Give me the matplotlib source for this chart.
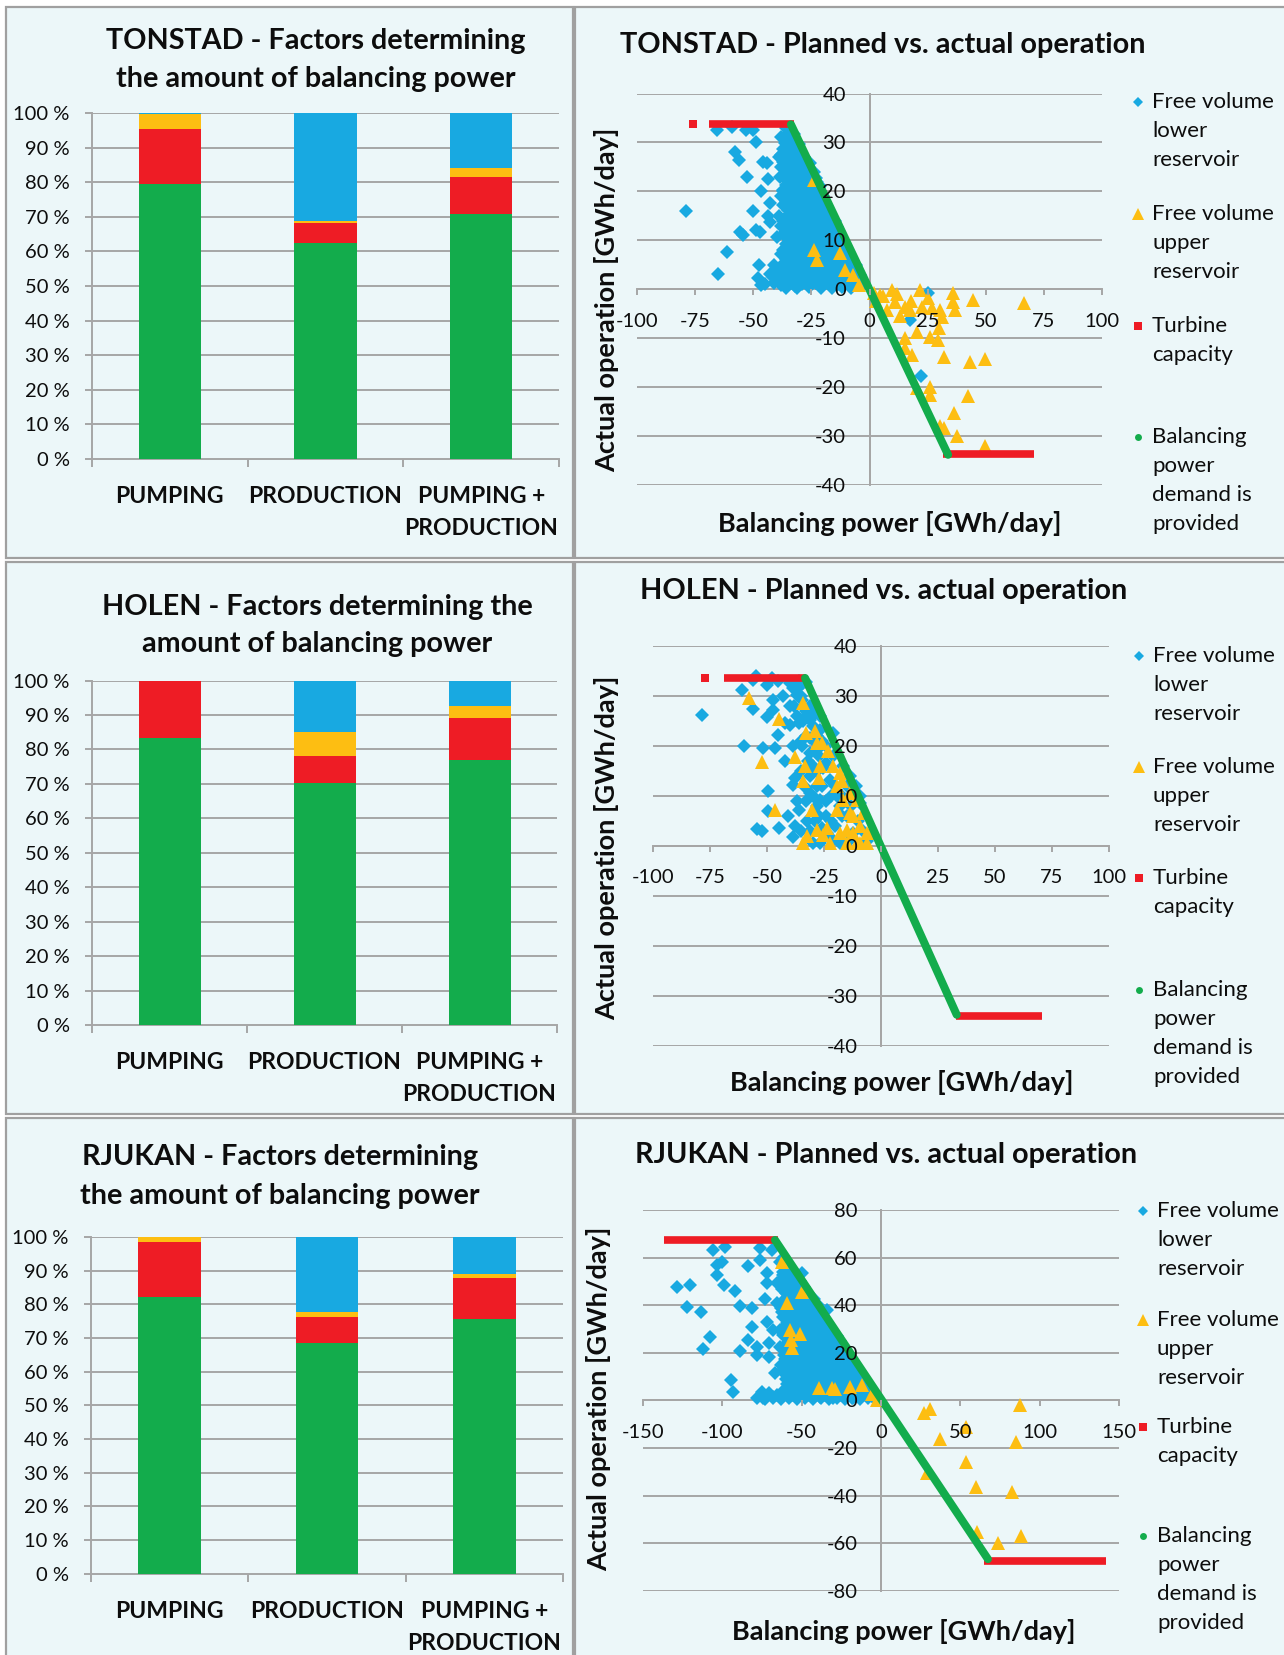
import numpy as np
import matplotlib
matplotlib.use("Agg")
import matplotlib.pyplot as plt
from matplotlib.patches import Rectangle
from matplotlib.lines import Line2D

plt.rcParams['font.family'] = ['Lato', 'DejaVu Sans']
plt.rcParams['axes.unicode_minus'] = False

# ---------------------------------------------------------------- data
categories = ["PUMPING", "PRODUCTION", "PUMPING +\nPRODUCTION"]

# shares (%) per category: demand provided, turbine capacity, upper reservoir, lower reservoir
tonstad_share_demand = [79.5, 62.4, 70.8]
tonstad_share_turbine = [16.0, 5.8, 10.7]
tonstad_share_upper = [4.1, 0.5, 2.7]
tonstad_share_lower = [0.4, 31.3, 15.8]

holen_share_demand = [83.2, 70.4, 76.9]
holen_share_turbine = [16.8, 7.7, 12.2]
holen_share_upper = [0.0, 6.9, 3.5]
holen_share_lower = [0.0, 15.0, 7.4]

rjukan_share_demand = [82.1, 68.5, 75.5]
rjukan_share_turbine = [16.5, 7.8, 12.2]
rjukan_share_upper = [1.4, 1.4, 1.4]
rjukan_share_lower = [0.0, 22.3, 10.9]

# (balancing power, actual operation) in GWh/day
tonstad_lower = [
    (-79, 16), (-65, 3), (-61.5, 7.6), (-58, 28), (-56, 26.5), (-55.5, 11.7), (-54.5, 11),
    (-52.5, 23), (-65.5, 32.5), (-59, 33.2), (-53, 32.5), (-50, 32.5), (-49, 30), (-50, 16),
    (-49, 12), (-47, 11.7), (-46.5, 20), (-47.5, 5), (-48, 2.2), (-46.5, 0.8), (-46, 26),
    (-44, 25.7), (-43.5, 22.6), (-43, 17.7), (-43, 13.8), (-43.5, 15), (-41.5, 2.5), (-40, 10.7),
    (-39, 15), (-38.5, 23), (-38.5, 1.2), (-38, 27.4), (-37, 20.2), (-36.3, 2.5), (-35.6, 4.6),
    (-35, 31.8), (-34.5, 26), (-32.8, 1.8), (17.4, -6.3), (22, -17.8), (25, -0.7),
    (-36, 33), (-34, 32.6), (-38, 31.2), (-35.5, 30.6), (-33, 31),
    (-37, 28.6), (-34, 29.3), (-31.5, 29),
    (-39, 27), (-36, 26.8), (-33, 27.3), (-30.5, 26.6), (-28, 27),
    (-38, 25), (-35, 25.3), (-32, 24.7), (-29, 25.1), (-26.5, 24.8),
    (-37, 23.4), (-34, 22.8), (-31, 23.2), (-28, 22.6), (-25, 23), (-23, 22.7),
    (-36, 21.3), (-33, 20.7), (-30, 21.2), (-27, 20.8), (-24, 21.1), (-21.5, 21),
    (-38, 19), (-35, 19.3), (-32, 18.7), (-29, 19.2), (-26, 18.8), (-23, 19.1), (-20, 19),
    (-37, 17.2), (-34, 16.8), (-31, 17.3), (-28, 16.7), (-25, 17.1), (-22, 16.9), (-18.5, 17),
    (-36, 14.8), (-33, 15.3), (-30, 14.7), (-27, 15.1), (-24, 14.9), (-21, 15.2), (-17, 14.8),
    (-38, 13), (-35, 13.2), (-32, 12.8), (-29, 13.3), (-26, 12.7), (-23, 13.1), (-20, 12.9), (-16.5, 13.2), (-14, 12.8),
    (-37, 11.2), (-34, 10.8), (-31, 11.3), (-28, 10.7), (-25, 11.1), (-22, 10.9), (-19, 11.2), (-15.5, 10.8), (-12.5, 11),
    (-36, 9.2), (-33, 8.8), (-30, 9.3), (-27, 8.7), (-24, 9.1), (-21, 8.9), (-18, 9.2), (-14.5, 8.8), (-10.5, 9),
    (-38, 7.2), (-35, 6.8), (-32, 7.3), (-29, 6.7), (-26, 7.1), (-23, 6.9), (-20, 7.2), (-17, 6.8), (-13, 7.1), (-9, 6.9),
    (-41, 5), (-37, 5.2), (-34, 4.8), (-31, 5.3), (-28, 4.7), (-25, 5.1), (-22, 4.9), (-19, 5.2), (-16, 4.8), (-12, 5.1), (-8, 4.9), (-6, 5),
    (-43, 3), (-39, 3.2), (-36, 2.8), (-33, 3.3), (-30, 2.7), (-27, 3.1), (-24, 2.9), (-21, 3.2), (-18, 2.8), (-15, 3.1), (-11, 2.9), (-7, 3.2), (-4, 2.8),
    (-45, 1), (-41, 1.2), (-38, 0.8), (-35, 1.3), (-32, 0.7), (-29, 1.1), (-26, 0.9), (-23, 1.2), (-20, 0.8), (-17, 1.1), (-14, 0.9), (-10, 1.2), (-6, 0.8), (-3, 1),
    (-36, 0.3), (-31, 0.2), (-26, 0.4), (-21, 0.3), (-16, 0.2), (-12, 0.4), (-8, 0.3),
    (-35, 32), (-32.5, 31.8),
    (-36.5, 29.8), (-33, 30), (-30.5, 29.6),
    (-35, 28.2), (-32, 27.8), (-29.5, 28),
    (-37, 26), (-34, 26.2), (-31, 25.8), (-28, 26.1), (-25.5, 25.9),
    (-36, 24), (-33, 24.2), (-30, 23.8), (-27, 24.1), (-24, 24),
    (-35, 22.2), (-32, 21.8), (-29, 22.1), (-26, 21.9), (-22.5, 22),
    (-37, 20), (-34, 20.2), (-31, 19.8), (-28, 20.1), (-25, 19.9), (-21.5, 20.1),
    (-36, 18), (-33, 18.2), (-30, 17.8), (-27, 18.1), (-24, 17.9), (-20.5, 18),
    (-35, 16.2), (-32, 15.8), (-29, 16.1), (-26, 15.9), (-23, 16), (-19, 16.1),
    (-37, 14), (-34, 14.2), (-31, 13.8), (-28, 14.1), (-25, 13.9), (-22, 14), (-18.5, 14.1), (-15, 14),
    (-36, 12), (-33, 12.2), (-30, 11.8), (-27, 12.1), (-24, 11.9), (-21, 12), (-17.5, 12.1), (-14, 11.9),
    (-35, 10.2), (-32, 9.8), (-29, 10.1), (-26, 9.9), (-23, 10), (-20, 10.1), (-16.5, 9.9), (-12, 10),
    (-37, 8), (-34, 8.2), (-31, 7.8), (-28, 8.1), (-25, 7.9), (-22, 8), (-19, 8.1), (-15.5, 7.9), (-11, 8.1),
    (-36, 6.2), (-33, 5.8), (-30, 6.1), (-27, 5.9), (-24, 6), (-21, 6.1), (-18, 5.9), (-14, 6.1), (-10, 6),
    (-38, 4), (-35, 4.2), (-32, 3.8), (-29, 4.1), (-26, 3.9), (-23, 4), (-20, 4.1), (-17, 3.9), (-13, 4.1), (-9, 3.9), (-5.5, 4),
    (-40, 2), (-37, 2.2), (-34, 1.8), (-31, 2.1), (-28, 1.9), (-25, 2), (-22, 2.1), (-19, 1.9), (-16, 2.1), (-12.5, 1.9), (-8.5, 2.1), (-5, 2),
]
tonstad_upper = [
    (-24, 22.3), (-23.7, 8), (-22.4, 5.9), (-12.7, 7.3), (-10.5, 3.9), (-7, 2.9), (-4.4, 0.8),
    (2, -0.8), (3, -2.5), (4.5, -1.2), (6, -1.5), (9.5, -0.2), (7.4, -4.3), (11, -2.6), (12, -1),
    (13, -5.5), (15.3, -3.6), (17.4, -4.3), (18, -2.5), (21.7, -0.2), (22.4, -3.6), (25.3, -1.9),
    (26.7, -3.9), (30.3, -4.3), (31, -5.7), (36, -0.9), (36, -2.6), (36.8, -4.3), (44.6, -2.3),
    (66.6, -2.9), (20.3, -8.7), (15.3, -10.1), (26, -9.8), (29.6, -10.4), (30, -8), (15.3, -12.1),
    (18.1, -13.5), (32.2, -13.8), (43.2, -14.9), (49.7, -14.3), (26, -20), (20.3, -20.3),
    (26, -21.7), (42.2, -21.9), (36.5, -25.3), (30.3, -28.1), (32.2, -28.4), (37.5, -30), (49.7, -32.1),
]
tonstad_turbine_single = [(-76, 33.7)]
tonstad_turbine_runs = [((-69, -32.5), 33.7), ((31.6, 70.6), -33.8)]
tonstad_demand_x = [-33.8, 33.8]
tonstad_demand_y = [33.7, -33.9]

holen_lower = [
    (-78.7, 26.1), (-61.1, 31.2), (-56.3, 27.4), (-56.3, 33.2), (-50.1, 32.2), (-47.2, 29.2),
    (-50.1, 25.8), (-47.5, 27.2), (-45.2, 22.2), (-60.1, 19.9), (-51.6, 19.5), (-46.5, 19.5),
    (-42.1, 16.9), (-49.7, 10.9), (-49.7, 6.9), (-54.5, 3.3), (-52.3, 2.9), (-44.6, 3.5),
    (-36, 7.1), (-37.7, 13.5), (-38.5, 12.2), (-38.5, 1.7), (-37.7, 3.9), (-42.1, 24.5),
    (-39.9, 24.2), (-38.5, 31.6), (-37, 30.2), (-35.5, 31.9), (-34.1, 32.6), (-38.5, 19.9),
    (-34.8, 19.9), (-32.6, 26.2), (-31.1, 25.2), (-31.1, 18.5), (-29.7, 21.2), (-31.1, 10.5),
    (-28.2, 11.9), (-26.8, 9.2), (-28.2, 7.9), (-32.6, 4.9), (-26.8, 0.5), (-23.8, 2.5),
    (-20.9, 1.2), (-25.3, 15.5), (-22.4, 13.2), (-19.4, 9.9), (-18, 7.9), (-15.1, 5.9),
    (-12.1, 2.5), (-9.2, 8.5), (-12.1, 11.9), (-13.6, 13.9), (-16.5, 15.9), (-20.9, 17.9),
    (-26.8, 23.2), (-28.2, 19.2), (-20.9, 22.5), (-34.8, 29.2), (-26.8, 25.9),
    (-36, 33), (-33, 32.8), (-40, 32.5), (-45, 33), (-48, 33.5), (-55, 34), (-35, 30),
    (-38, 28), (-33, 27), (-30, 24), (-36, 24.5), (-33, 22), (-28, 22), (-30, 16), (-27, 18),
    (-24, 20), (-31, 14), (-26, 12), (-22, 10), (-33, 9), (-29, 5), (-24, 6), (-20, 4),
    (-17, 10), (-15, 12), (-13, 8), (-10, 5), (-8, 3), (-6, 1), (-14, 1), (-18, 0.5),
    (-30, 0.5), (-35, 3), (-9, 10), (-11, 12),
    (-37, 26), (-34, 25), (-31, 28), (-29, 26.5), (-35, 21), (-31, 21.5), (-26, 21), (-32, 17),
    (-28, 15), (-24, 16.5), (-35, 15), (-33, 11.5), (-29, 9.5), (-24, 9), (-27, 6), (-22, 5),
    (-31, 3), (-26, 3.5), (-17, 6), (-20, 12), (-37, 9), (-41, 6), (-40, 28), (-43, 30),
]
holen_upper = [
    (-57.7, 29.6), (-44.6, 25.4), (-52.3, 16.7), (-46.5, 7.1), (-37.7, 17.7), (-34.4, 28.6),
    (-33, 22.5), (-33.3, 15.9), (-34.4, 12.9), (-30.4, 7.1), (-34.1, 0.5), (-32.6, 1.9),
    (-28.9, 22.9), (-28.2, 20.5), (-26.8, 16), (-27, 13.5), (-28.2, 3.2), (-25.3, 2.2),
    (-23.1, 18.9), (-23.8, 3.5), (-22.4, 0.5), (-20.9, 15.9), (-18, 14.5), (-17.3, 12.9),
    (-19.4, 7.2), (-16.5, 9.2), (-13.6, 10.5), (-15.1, 3.2), (-12.1, 5.9), (-12.1, 2.5),
    (-15.1, 0.5), (-10.7, 9.2), (-9.2, 3.9), (-6.3, 0.5), (-6.3, 2.5), (-7.7, 6.5),
    (-4.8, 2.5), (-10.7, 0.5), (-26, 20.5), (-19.4, 11.9), (-13.6, 6.5), (-9.2, 0.5), (-18, 2.5),
]
holen_turbine_single = [(-77, 33.6)]
holen_turbine_runs = [((-69, -33), 33.6), ((33, 70.5), -34.0)]
holen_demand_x = [-33.3, 33.2]
holen_demand_y = [33.6, -33.8]

rjukan_lower = [
    (-128.8, 47.8), (-120.4, 48.5), (-122.5, 39.1), (-113.4, 37), (-107.8, 26.5), (-112, 21.5),
    (-105.7, 63.2), (-98.3, 64.3), (-103.6, 56.9), (-100.4, 58.3), (-103.6, 52.7), (-98.9, 48.5),
    (-92, 46.1), (-88.8, 39.7), (-81.5, 38.7), (-83.6, 56.5), (-81.5, 31), (-83.6, 25.4),
    (-88.8, 20.9), (-78.3, 22.6), (-94.7, 8.6), (-93, 3.7), (-75.2, 3.7), (-74.1, 0.9),
    (-67.8, 1.6), (-66.8, 11.4), (-61.5, 12.8), (-76.2, 63.9), (-68.9, 63.2), (-76.2, 59),
    (-72, 53.4), (-72, 49.2), (-73.1, 42.5), (-65.7, 49.2), (-65.7, 40.8), (-72, 33.1),
    (-67.8, 29.6), (-70.9, 24), (-78.3, 19.1), (-70.9, 18.4), (-63.6, 58.3), (-61.5, 51.3),
    (-59.4, 47.1), (-58.4, 41.5), (-61.5, 35.2), (-63.6, 29.6), (-60.5, 22.6), (-59.4, 17),
    (-54.2, 12.8), (-57.3, 5.8), (-53.1, 1.6), (-51, 46.4), (-50, 38.7), (-48.9, 31),
    (-46.8, 22.6), (-45.8, 15.6), (-44.7, 7.2), (-42.6, 1.6), (-40.5, 36.6), (-38.4, 28.2),
    (-36.3, 21.2), (-35.3, 12.8), (-33.2, 4.4), (-30, 26.8), (-27.9, 18.4), (-25.8, 10),
    (-23.7, 2.3), (-19.5, 17), (-17.4, 8.6), (-13.2, 3), (-9, 5.8), (-4.8, 1.6), (-38.4, 1.6),
    (-30, 0.9), (-17.4, 0.9), (-46.8, 33.8), (-34.2, 38), (-53.1, 26.8), (-55.2, 35.2), (-50, 53.4),
    (-62, 60),
    (-62, 54), (-57, 55),
    (-59, 50), (-54, 49), (-51, 50),
    (-60, 45), (-55, 44), (-50, 45), (-46, 44),
    (-63, 39), (-58, 40), (-53, 39), (-48, 40), (-43, 39), (-40, 40),
    (-60, 35), (-55, 34), (-50, 35), (-45, 34), (-40, 35), (-36, 34),
    (-62, 30), (-57, 29), (-52, 30), (-47, 29), (-42, 30), (-37, 29), (-32, 30),
    (-59, 24), (-54, 25), (-49, 24), (-44, 25), (-39, 24), (-34, 25), (-29, 24), (-26, 25),
    (-61, 19), (-56, 20), (-51, 19), (-46, 20), (-41, 19), (-36, 20), (-31, 19), (-26, 20), (-22, 19),
    (-63, 15), (-58, 14), (-53, 15), (-48, 14), (-43, 15), (-38, 14), (-33, 15), (-28, 14), (-23, 15), (-18, 14),
    (-60, 9), (-55, 10), (-50, 9), (-45, 10), (-40, 9), (-35, 10), (-30, 9), (-25, 10), (-20, 9), (-15, 10), (-11, 9),
    (-62, 4), (-57, 5), (-52, 4), (-47, 5), (-42, 4), (-37, 5), (-32, 4), (-27, 5), (-22, 4), (-17, 5), (-12, 4), (-7, 5),
    (-78, 1), (-73, 0.5), (-68, 1), (-63, 0.5), (-58, 1), (-53, 0.5), (-48, 1), (-43, 0.5), (-38, 1), (-33, 0.5), (-28, 1), (-23, 0.5), (-18, 1), (-13, 0.5), (-8, 1), (-4, 0.5),
    (-59.5, 57.5),
    (-61.5, 52.5), (-56.5, 52), (-53, 52.5),
    (-62.5, 47), (-57.5, 47.5), (-52.5, 47), (-48.5, 47.5),
    (-60.5, 42.5), (-55.5, 42), (-50.5, 42.5), (-45.5, 42), (-42, 42.5),
    (-62.5, 37), (-57.5, 37.5), (-52.5, 37), (-47.5, 37.5), (-42.5, 37), (-38, 37.5),
    (-59.5, 32.5), (-54.5, 32), (-49.5, 32.5), (-44.5, 32), (-39.5, 32.5), (-34, 32),
    (-61.5, 27.5), (-56.5, 27), (-51.5, 27.5), (-46.5, 27), (-41.5, 27.5), (-36.5, 27), (-31.5, 27.5), (-28, 27),
    (-63.5, 22.5), (-58.5, 22), (-53.5, 22.5), (-48.5, 22), (-43.5, 22.5), (-38.5, 22), (-33.5, 22.5), (-28.5, 22), (-24, 22.5),
    (-60.5, 17.5), (-55.5, 17), (-50.5, 17.5), (-45.5, 17), (-40.5, 17.5), (-35.5, 17), (-30.5, 17.5), (-25.5, 17), (-20.5, 17.5),
    (-62.5, 12.5), (-57.5, 12), (-52.5, 12.5), (-47.5, 12), (-42.5, 12.5), (-37.5, 12), (-32.5, 12.5), (-27.5, 12), (-22.5, 12.5), (-17.5, 12), (-14, 12.5),
    (-59.5, 7), (-54.5, 7.5), (-49.5, 7), (-44.5, 7.5), (-39.5, 7), (-34.5, 7.5), (-29.5, 7), (-24.5, 7.5), (-19.5, 7), (-14.5, 7.5), (-9.5, 7),
    (-75.5, 2.5), (-70.5, 3), (-65.5, 2.5), (-60.5, 3), (-55.5, 2.5), (-50.5, 3), (-45.5, 2.5), (-40.5, 3), (-35.5, 2.5), (-30.5, 3), (-25.5, 2.5), (-20.5, 3), (-15.5, 2.5), (-10.5, 3), (-6, 2.5),
]
rjukan_upper = [
    (-62.2, 58.3), (-50, 45.7), (-59.4, 40.8), (-57.3, 29.6), (-51, 27.9), (-56.9, 25.4),
    (-56.3, 21.9), (-39.1, 5.1), (-31.1, 5.1), (-29, 4.7), (-19.5, 5.8), (-12.2, 6.5),
    (-5.9, 2.7), (-2.7, 0), (27.3, -5.4), (30.9, -3.7), (36.9, -16.3), (53.4, -11.3),
    (53.8, -25.7), (60.1, -36.5), (60.6, -55.1), (73.7, -60), (29, -30.6), (87.6, -1.9),
    (85.3, -17.3), (82.6, -38.3), (88, -56.9),
]
rjukan_turbine_single = []
rjukan_turbine_runs = [((-136.7, -65), 67.4), ((65, 141.6), -67.4)]
rjukan_demand_x = [-66.8, 67.4]
rjukan_demand_y = [67.4, -66.6]

legend_entries = [
    ["Free volume", "lower", "reservoir"],
    ["Free volume", "upper", "reservoir"],
    ["Turbine", "capacity"],
    ["Balancing", "power", "demand is", "provided"],
]

# ---------------------------------------------------------------- style
C_GREEN = '#13AC4C'
C_RED = '#EE1C25'
C_YELLOW = '#FDBE12'
C_BLUE = '#18A9E1'
C_GRID = '#A6A6A6'
C_TEXT = '#0D0D0D'
BG = '#ECF7F9'

W, H = 1284, 1655
fig = plt.figure(figsize=(W / 100, H / 100), dpi=100)
fig.patch.set_facecolor('white')


def fx(px):
    return px / W


def fy(py):
    return 1 - py / H


def axes_px(x0, y0, x1, y1):
    ax = fig.add_axes([fx(x0), fy(y1), (x1 - x0) / W, (y1 - y0) / H])
    ax.patch.set_visible(False)
    return ax


def text_px(x, y, s, **kw):
    kw.setdefault('color', C_TEXT)
    return fig.text(fx(x), fy(y), s, **kw)


# panel frames
for (x0, y0, x1, y1) in [(6, 7, 573, 558), (575, 7, 1290, 558),
                         (6, 562, 573, 1114), (575, 562, 1290, 1114),
                         (6, 1118, 573, 1662), (575, 1118, 1290, 1662)]:
    fig.add_artist(Rectangle((fx(x0), fy(y1)), (x1 - x0) / W, (y1 - y0) / H,
                             transform=fig.transFigure, facecolor=BG,
                             edgecolor='#A0A0A0', lw=1.6, zorder=0))


def bar_panel(box, title_lines, title_x, title_base, demand, turbine, upper, lower):
    x0, y0, x1, y1 = box
    ax = axes_px(*box)
    xs = np.arange(3)
    bottom = np.zeros(3)
    for vals, col in [(demand, C_GREEN), (turbine, C_RED), (upper, C_YELLOW), (lower, C_BLUE)]:
        vals = np.asarray(vals, float)
        ax.bar(xs, vals, 0.4, bottom=bottom, color=col, zorder=3, linewidth=0)
        bottom += vals
    ax.set_xlim(-0.5, 2.5)
    ax.set_ylim(0, 100)
    ticks = np.arange(0, 101, 10)
    ax.set_yticks(ticks)
    ax.set_yticklabels([f"{t} %" for t in ticks])
    for t in ticks[1:]:
        ax.axhline(t, color=C_GRID, lw=1.4, zorder=1)
    ax.set_xticks([-0.5, 0.5, 1.5, 2.5])
    ax.set_xticklabels([])
    for side in ['top', 'right']:
        ax.spines[side].set_visible(False)
    for side in ['left', 'bottom']:
        ax.spines[side].set_color(C_GRID)
        ax.spines[side].set_linewidth(1.4)
    ax.tick_params(axis='y', length=5, width=1.4, color=C_GRID, pad=11,
                   labelsize=14.5, labelcolor=C_TEXT)
    ax.tick_params(axis='x', length=6, width=1.4, color=C_GRID)
    # category names under the bars
    cw = (x1 - x0) / 3
    for i, name in enumerate(categories):
        for j, line in enumerate(name.split('\n')):
            text_px(x0 + (i + 0.5) * cw, y1 + 44 + 32 * j, line, ha='center',
                    va='baseline', fontsize=16.5, fontweight='bold')
    for line, yb in zip(title_lines, title_base):
        text_px(title_x, yb, line, ha='center', va='baseline', fontsize=20.7,
                fontweight='bold')


def scatter_panel(box, xlim, xstep, ylim, ystep, lower, upper, turb_single, turb_runs,
                  dem_x, dem_y, title, title_x, title_base, xlab_pos, ylab_pos, leg_x, leg_ys):
    ax = axes_px(*box)
    ax.set_xlim(*xlim)
    ax.set_ylim(*ylim)
    yt = np.arange(ylim[0], ylim[1] + 1, ystep)
    xt = np.arange(xlim[0], xlim[1] + 1, xstep)
    for t in yt:
        ax.axhline(t, color=C_GRID, lw=1.4, zorder=1)
    ax.axvline(0, color=C_GRID, lw=1.4, zorder=1)
    for side in ['top', 'right']:
        ax.spines[side].set_visible(False)
    ax.spines['left'].set_position(('data', 0))
    ax.spines['bottom'].set_position(('data', 0))
    for side in ['left', 'bottom']:
        ax.spines[side].set_color(C_GRID)
        ax.spines[side].set_linewidth(1.4)
        ax.spines[side].set_zorder(1)
    ax.set_xticks(xt)
    ax.set_xticklabels([f"{int(v)}" for v in xt])
    ax.set_yticks(yt)
    ax.set_yticklabels([f"{int(v)}" for v in yt])
    ax.tick_params(axis='x', length=4.5, width=1.4, color=C_GRID, pad=12.5,
                   labelsize=14.5, labelcolor=C_TEXT)
    ax.tick_params(axis='y', length=0, pad=17, labelsize=14.5, labelcolor=C_TEXT)
    ax.xaxis.set_zorder(6)
    ax.yaxis.set_zorder(6)

    lo = np.array(lower)
    ax.plot(lo[:, 0], lo[:, 1], 'D', ms=6.8, color=C_BLUE, mew=0, zorder=3, clip_on=False)
    up = np.array(upper)
    ax.plot(up[:, 0], up[:, 1], '^', ms=9.8, color=C_YELLOW, mew=0, zorder=3.5, clip_on=False)
    for (xa, xb), yv in turb_runs:
        ax.plot([xa, xb], [yv, yv], color=C_RED, lw=5.5, solid_capstyle='butt', zorder=4)
    for xv, yv in turb_single:
        ax.plot([xv], [yv], 's', ms=5.8, color=C_RED, mew=0, zorder=4)
    ax.plot(dem_x, dem_y, color=C_GREEN, lw=5.8, solid_capstyle='round', zorder=5)

    text_px(title_x, title_base, title, ha='center', va='baseline', fontsize=20.8,
            fontweight='bold')
    text_px(xlab_pos[0], xlab_pos[1], "Balancing power [GWh/day]", ha='center',
            va='baseline', fontsize=19.5, fontweight='bold')
    text_px(ylab_pos[0], ylab_pos[1], "Actual operation [GWh/day]", ha='center',
            va='center', rotation=90, fontsize=19.5, fontweight='bold')

    markers = [('D', 4.6, C_BLUE), ('^', 8.5, C_YELLOW), ('s', 5.2, C_RED), ('o', 5.0, C_GREEN)]
    for (mk, ms, col), lines, ly in zip(markers, legend_entries, leg_ys):
        fig.add_artist(Line2D([fx(leg_x - 14)], [fy(ly)], marker=mk, ms=ms, color=col,
                              mew=0, transform=fig.transFigure))
        for k, line in enumerate(lines):
            text_px(leg_x, ly + 29 * k, line, ha='left', va='center', fontsize=16)


# ---------------------------------------------------------------- panels
bar_panel((92, 113, 559, 459), ["TONSTAD - Factors determining", "the amount of balancing power"],
          316, [49, 87.5], tonstad_share_demand, tonstad_share_turbine,
          tonstad_share_upper, tonstad_share_lower)
bar_panel((92, 680.5, 557, 1025.3), ["HOLEN - Factors determining the", "amount of balancing power"],
          317, [614.7, 651.8], holen_share_demand, holen_share_turbine,
          holen_share_upper, holen_share_lower)
bar_panel((91, 1237, 563, 1573.6), ["RJUKAN - Factors determining", "the amount of balancing power"],
          280, [1165.5, 1204.4], rjukan_share_demand, rjukan_share_turbine,
          rjukan_share_upper, rjukan_share_lower)

scatter_panel((637, 93.6, 1102, 484.6), (-100, 100), 25, (-40, 40), 10,
              tonstad_lower, tonstad_upper, tonstad_turbine_single, tonstad_turbine_runs,
              tonstad_demand_x, tonstad_demand_y,
              "TONSTAD - Planned vs. actual operation", 883, 53,
              (890, 532), (607, 300), 1152, [102, 214, 326, 437])
scatter_panel((653, 646, 1109, 1045.7), (-100, 100), 25, (-40, 40), 10,
              holen_lower, holen_upper, holen_turbine_single, holen_turbine_runs,
              holen_demand_x, holen_demand_y,
              "HOLEN - Planned vs. actual operation", 884, 599,
              (902, 1091), (607, 848), 1153, [656, 767, 878, 990])
scatter_panel((643, 1210, 1119, 1591), (-150, 150), 50, (-80, 80), 20,
              rjukan_lower, rjukan_upper, rjukan_turbine_single, rjukan_turbine_runs,
              rjukan_demand_x, rjukan_demand_y,
              "RJUKAN - Planned vs. actual operation", 886, 1163,
              (904, 1640), (599, 1399), 1157, [1211, 1320, 1427, 1536])

fig.savefig("out.png", dpi=100, facecolor=fig.get_facecolor())
